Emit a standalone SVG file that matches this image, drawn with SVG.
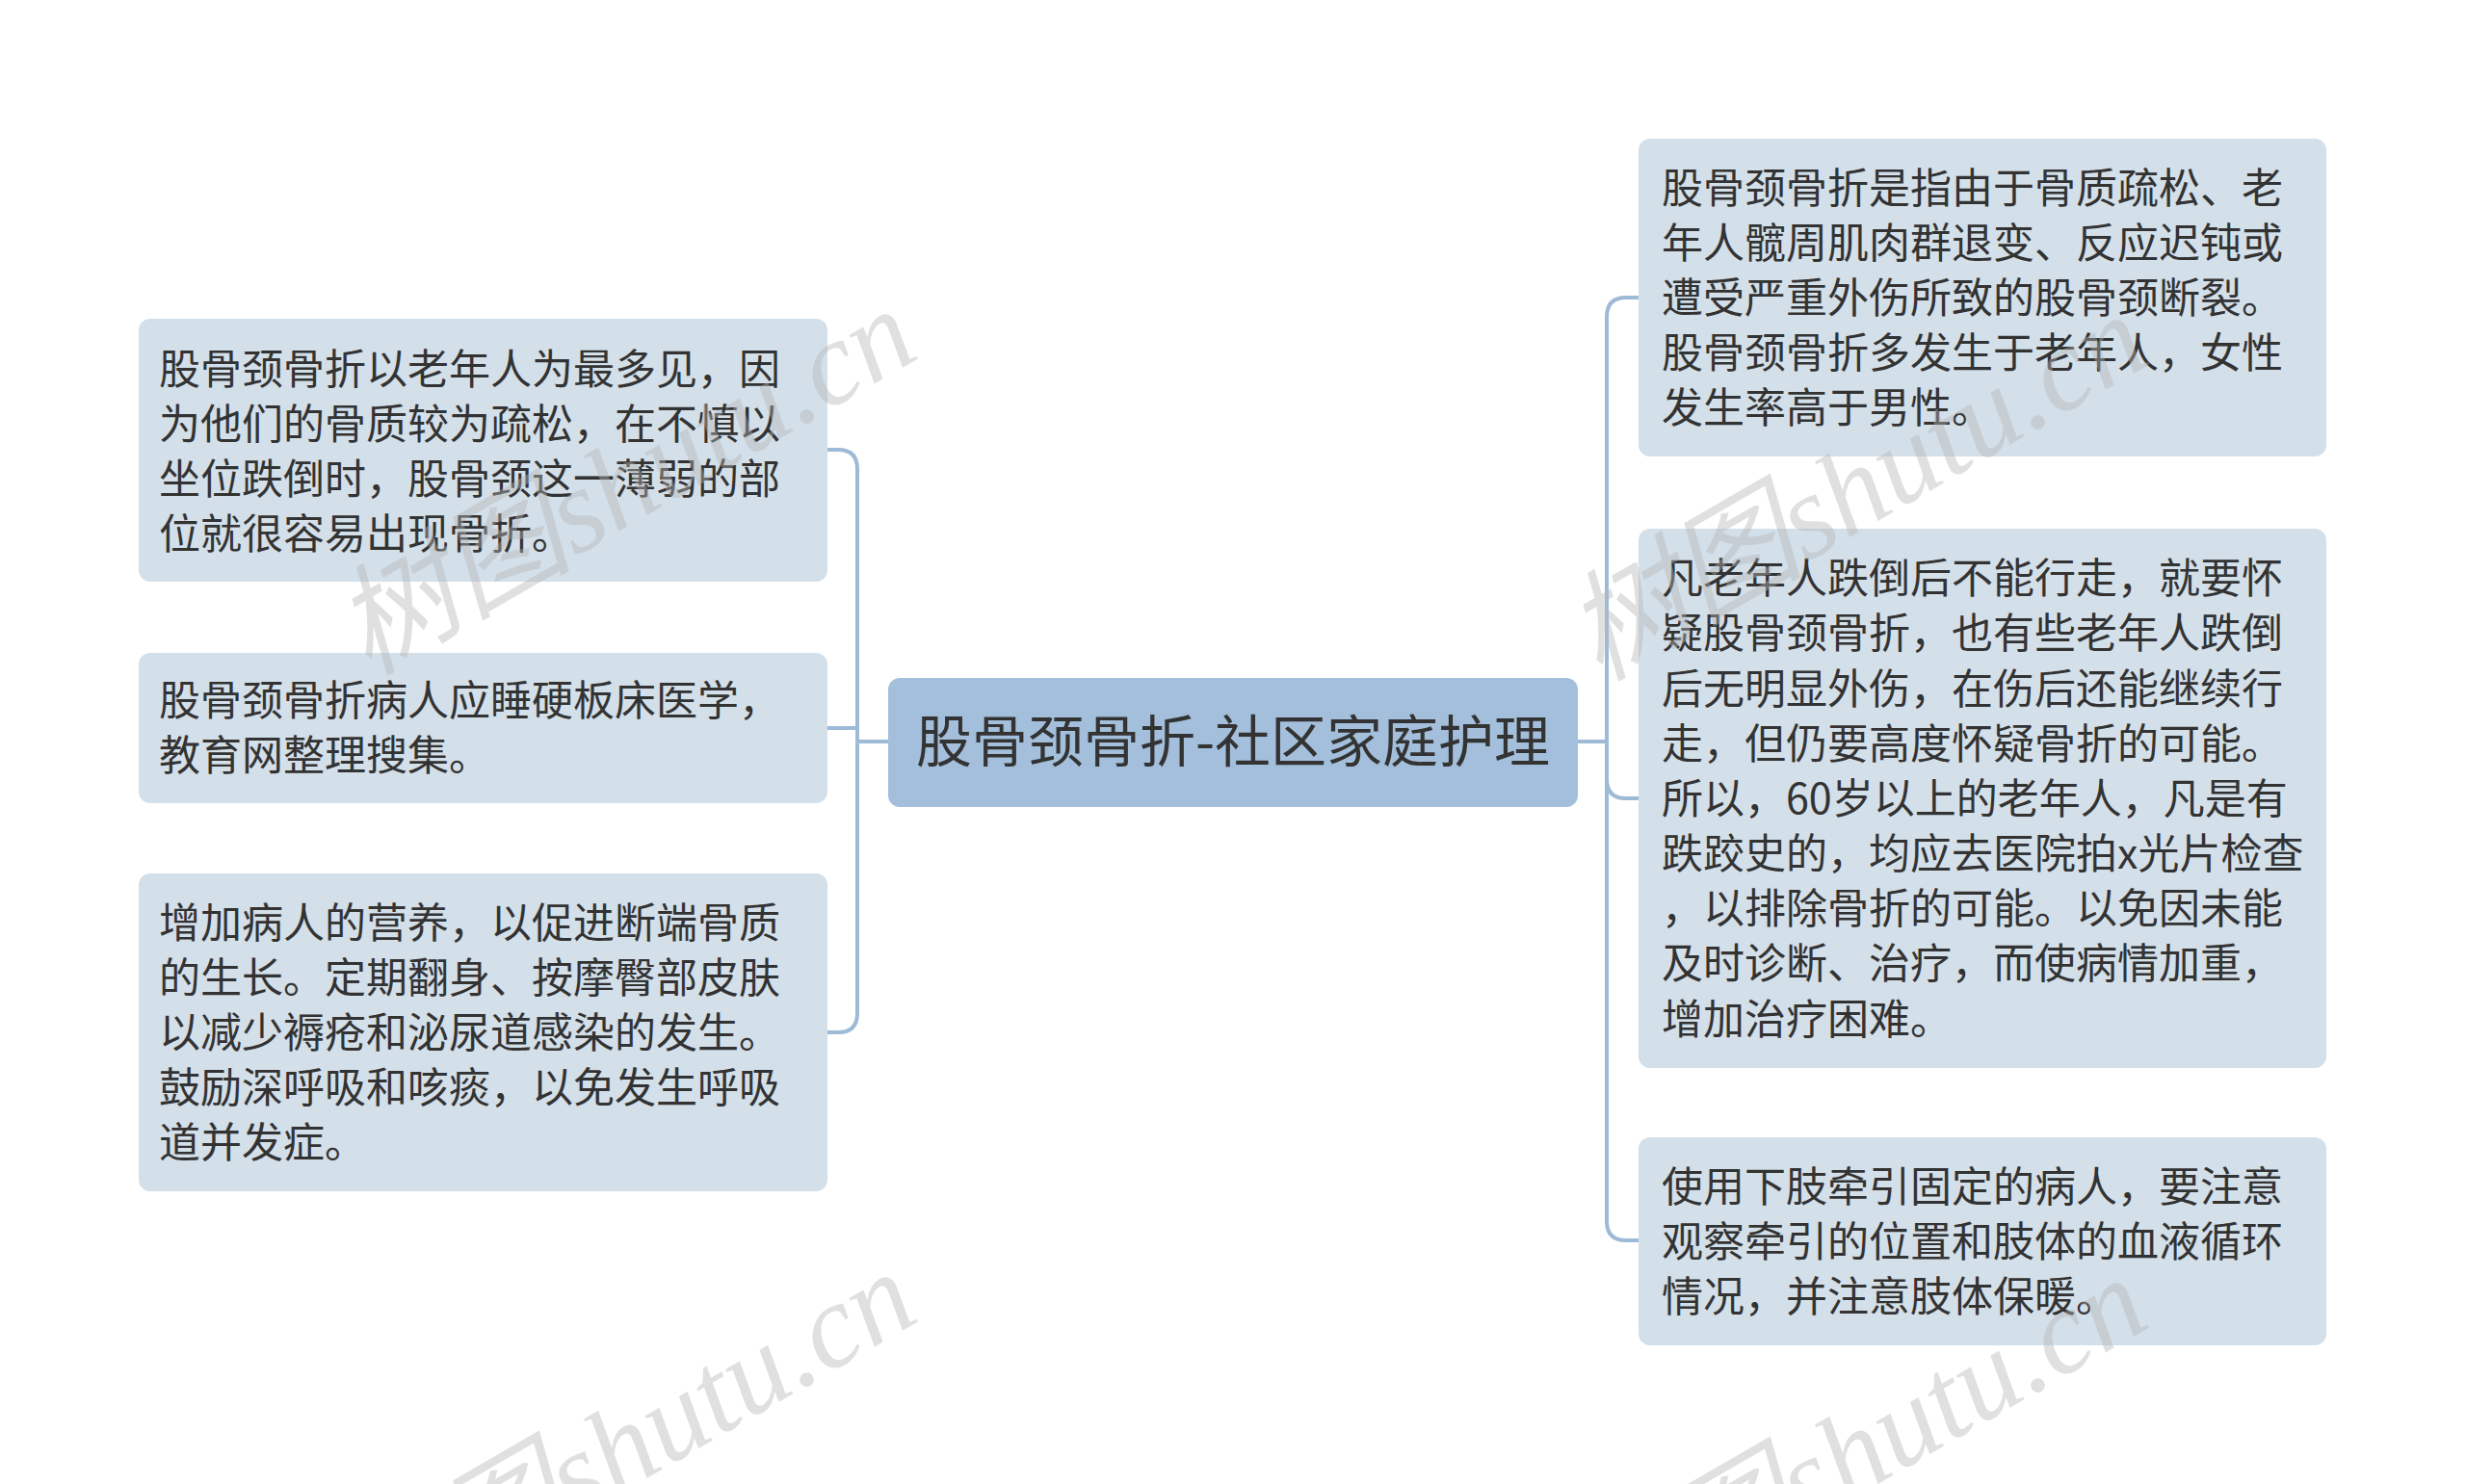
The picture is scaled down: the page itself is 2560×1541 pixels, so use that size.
<svg xmlns="http://www.w3.org/2000/svg" width="2560" height="1541" viewBox="0 0 2560 1541">
<style>
.bg{fill:#ffffff}
.node{fill:#d3dfe9}
.root{fill:#a3bfdb}
.t{font-family:"Noto Sans CJK SC","Noto Sans",sans-serif;font-size:43px;fill:#333333}
.rt{font-family:"Noto Sans CJK SC","Noto Sans",sans-serif;font-size:58px;fill:#333333}
.edge{fill:none;stroke:#9dbad7;stroke-width:4;stroke-linecap:butt}
.wm{font-family:"Liberation Serif","Noto Sans CJK SC",serif;font-style:italic;font-size:124px;fill:#b4b4b4;fill-opacity:0.42}
</style>
<rect class="bg" x="0" y="0" width="2560" height="1541"/>
<g id="connectors">
<path class="edge" d="M922,770 H890 V487 Q890,467 870,467 H859"/>
<path class="edge" d="M922,770 H890 V756 H859"/>
<path class="edge" d="M922,770 H890 V1052 Q890,1072 870,1072 H859"/>
<path class="edge" d="M1638,770 H1668 V329 Q1668,309 1688,309 H1701"/>
<path class="edge" d="M1638,770 H1668 V809 Q1668,829 1688,829 H1701"/>
<path class="edge" d="M1638,770 H1668 V1268 Q1668,1288 1688,1288 H1701"/>
</g>
<g id="root">
<rect class="root" x="922" y="704" width="716" height="134" rx="12"/>
<text class="rt" x="1280" y="791" text-anchor="middle">股骨颈骨折-社区家庭护理</text>
</g>
<g id="left1">
<rect class="node" x="144" y="331" width="715" height="273" rx="12"/>
<text class="t" x="165" y="399">股骨颈骨折以老年人为最多见，因</text>
<text class="t" x="165" y="456">为他们的骨质较为疏松，在不慎以</text>
<text class="t" x="165" y="513">坐位跌倒时，股骨颈这一薄弱的部</text>
<text class="t" x="165" y="570">位就很容易出现骨折。</text>
</g>
<g id="left2">
<rect class="node" x="144" y="678" width="715" height="156" rx="12"/>
<text class="t" x="165" y="743">股骨颈骨折病人应睡硬板床医学，</text>
<text class="t" x="165" y="800">教育网整理搜集。</text>
</g>
<g id="left3">
<rect class="node" x="144" y="907" width="715" height="330" rx="12"/>
<text class="t" x="165" y="974">增加病人的营养，以促进断端骨质</text>
<text class="t" x="165" y="1031">的生长。定期翻身、按摩臀部皮肤</text>
<text class="t" x="165" y="1088">以减少褥疮和泌尿道感染的发生。</text>
<text class="t" x="165" y="1145">鼓励深呼吸和咳痰，以免发生呼吸</text>
<text class="t" x="165" y="1202">道并发症。</text>
</g>
<g id="right1">
<rect class="node" x="1701" y="144" width="714" height="330" rx="12"/>
<text class="t" x="1725" y="211">股骨颈骨折是指由于骨质疏松、老</text>
<text class="t" x="1725" y="268">年人髋周肌肉群退变、反应迟钝或</text>
<text class="t" x="1725" y="325">遭受严重外伤所致的股骨颈断裂。</text>
<text class="t" x="1725" y="382">股骨颈骨折多发生于老年人，女性</text>
<text class="t" x="1725" y="439">发生率高于男性。</text>
</g>
<g id="right2">
<rect class="node" x="1701" y="549" width="714" height="560" rx="12"/>
<text class="t" x="1725" y="616">凡老年人跌倒后不能行走，就要怀</text>
<text class="t" x="1725" y="673">疑股骨颈骨折，也有些老年人跌倒</text>
<text class="t" x="1725" y="731">后无明显外伤，在伤后还能继续行</text>
<text class="t" x="1725" y="788">走，但仍要高度怀疑骨折的可能。</text>
<text class="t" x="1725" y="845">所以，60岁以上的老年人，凡是有</text>
<text class="t" x="1725" y="902">跌跤史的，均应去医院拍x光片检查</text>
<text class="t" x="1725" y="959">，以排除骨折的可能。以免因未能</text>
<text class="t" x="1725" y="1016">及时诊断、治疗，而使病情加重，</text>
<text class="t" x="1725" y="1074">增加治疗困难。</text>
</g>
<g id="right3">
<rect class="node" x="1701" y="1181" width="714" height="216" rx="12"/>
<text class="t" x="1725" y="1248">使用下肢牵引固定的病人，要注意</text>
<text class="t" x="1725" y="1305">观察牵引的位置和肢体的血液循环</text>
<text class="t" x="1725" y="1362">情况，并注意肢体保暖。</text>
</g>
<g id="watermarks">
<text class="wm" x="0" y="0" text-anchor="middle" dominant-baseline="central" transform="translate(649,500) rotate(-30)">树图shutu.cn</text>
<text class="wm" x="0" y="0" text-anchor="middle" dominant-baseline="central" transform="translate(1927,506) rotate(-30)">树图shutu.cn</text>
<text class="wm" x="0" y="0" text-anchor="middle" dominant-baseline="central" transform="translate(649,1500) rotate(-30)">树图shutu.cn</text>
<text class="wm" x="0" y="0" text-anchor="middle" dominant-baseline="central" transform="translate(1927,1506) rotate(-30)">树图shutu.cn</text>
</g>
</svg>
